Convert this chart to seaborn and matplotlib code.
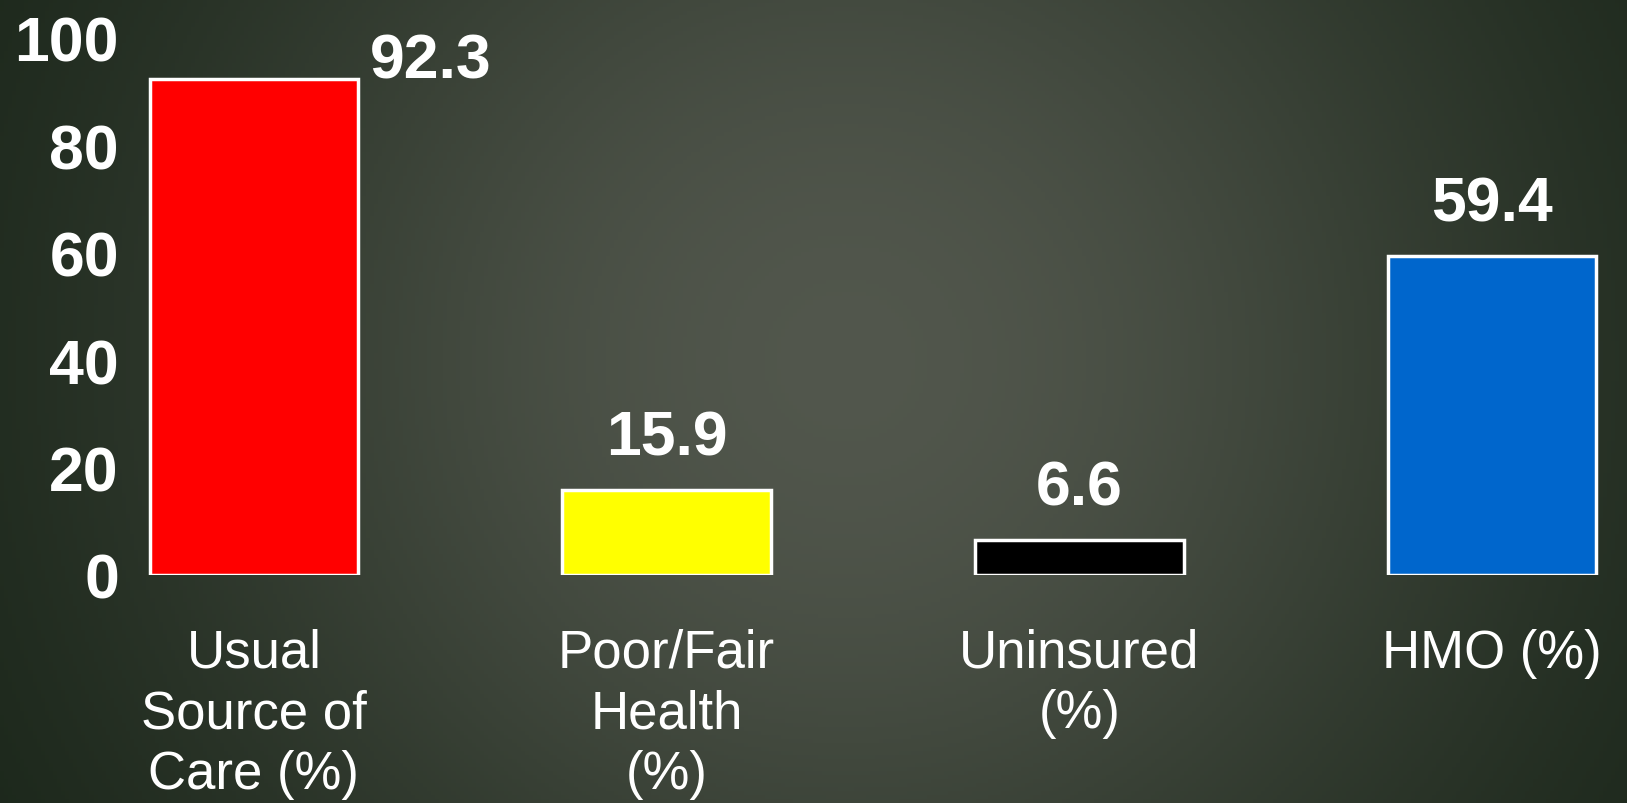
import numpy as np
import matplotlib
matplotlib.use("Agg")
import matplotlib.pyplot as plt
import seaborn as sns

categories = ["Usual\nSource of\nCare (%)", "Poor/Fair\nHealth\n(%)", "Uninsured\n(%)", "HMO (%)"]
values = [92.3, 15.9, 6.6, 59.4]
bar_colors = ["#FF0000", "#FFFF00", "#000000", "#0066CC"]
y_ticks = [0, 20, 40, 60, 80, 100]

sns.set_style("white")
plt.rcParams["font.family"] = ["Liberation Sans", "DejaVu Sans"]

W, H = 1627, 804
fig = plt.figure(figsize=(W / 100, H / 100), dpi=100)

# dark slide-style background
bg = fig.add_axes([0, 0, 1, 1], zorder=-10)
yy, xx = np.mgrid[0:1:200j, 0:1:400j]
w = np.exp(-((xx - 0.52) / 0.45) ** 2 - ((yy - 0.45) / 0.9) ** 2)
dark = np.array([0.07, 0.12, 0.07])
light = np.array([0.32, 0.34, 0.30])
img = dark[None, None, :] * (1 - w[..., None]) + light[None, None, :] * w[..., None]
bg.imshow(img, aspect="auto", extent=[0, 1, 0, 1], origin="upper")
bg.axis("off")

ax = fig.add_axes([130 / W, 1 - 576 / H, 1 - 130 / W, (576 - 38.6) / H])
ax.patch.set_alpha(0)

sns.barplot(x=categories, y=values, hue=categories, palette=bar_colors, legend=False,
            edgecolor="white", linewidth=2.5, width=0.505, saturation=1, ax=ax)

ax.set_xlim(-0.300, 3.327)
ax.set_ylim(0, 100)
ax.set_yticks(y_ticks)
ax.set_yticklabels([str(t) for t in y_ticks], fontsize=45, fontweight="bold", color="white")
ax.tick_params(axis="y", length=0, pad=8)
ax.tick_params(axis="x", length=0, pad=38, labelsize=38, labelcolor="white")
for lbl in ax.get_xticklabels():
    lbl.set_linespacing(1.27)
ax.set_xlabel("")
ax.set_ylabel("")
sns.despine(ax=ax, left=True, bottom=True)

# value labels; the first one sits to the right of its bar
offsets = [(127, 13), (0, 37), (0, 37), (0, 37)]
for i, (v, off) in enumerate(zip(values, offsets)):
    ax.annotate(f"{v}", xy=(i, v), xytext=off, textcoords="offset points",
                ha="center", va="center", fontsize=45, fontweight="bold", color="white")

fig.savefig("out.png", dpi=100)
